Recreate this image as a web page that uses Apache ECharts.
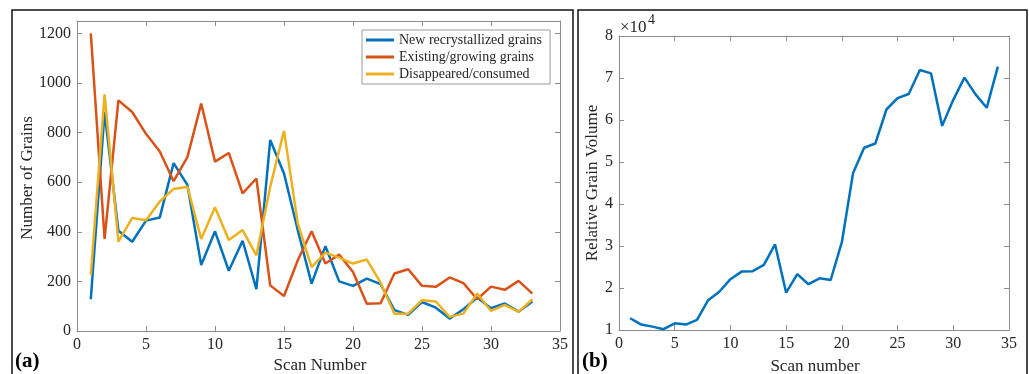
<!DOCTYPE html>
<html>
<head>
<meta charset="utf-8">
<script src="https://cdn.jsdelivr.net/npm/echarts@6/dist/echarts.min.js"></script>
<style>
    html, body { margin: 0; padding: 0; background: #fff; }
    #container { width: 1029px; height: 374px; }
</style>
</head>
<body>
<div id="container"></div>
<script type="text/javascript">
    // scan numbers for panel (a) and (b)
    var scansA = [1,2,3,4,5,6,7,8,9,10,11,12,13,14,15,16,17,18,19,20,21,22,23,24,25,26,27,28,29,30,31,32,33];
    var scansB = [1,2,3,4,5,6,7,8,9,10,11,12,13,14,15,16,17,18,19,20,21,22,23,24,25,26,27,28,29,30,31,32,33,34];

    var newGrains = [128,883,404,360,445,458,677,589,266,402,243,364,169,770,635,406,191,342,200,182,211,189,84,65,117,94,50,88,135,92,111,78,119];
    var existingGrains = [1200,371,930,883,795,724,604,701,917,683,718,555,615,184,141,285,402,272,308,238,110,112,232,249,182,178,216,193,128,179,166,202,151];
    var consumedGrains = [226,954,360,456,447,522,573,582,371,499,367,407,305,581,807,433,258,316,296,272,288,195,70,70,124,119,57,70,151,81,105,77,128];

    var grainVolume = [12800,11300,10800,10200,11600,11300,12400,17100,19100,22100,23900,24000,25500,30400,18900,23300,20900,22300,21900,30900,47300,53400,54400,62500,65200,66200,71900,71100,58600,64800,70100,66100,62900,72700];

    var seriesNames = ['New recrystallized grains', 'Existing/growing grains', 'Disappeared/consumed'];

    function pairs(xs, ys) {
        var out = [];
        for (var i = 0; i < ys.length; i++) out.push([xs[i], ys[i]]);
        return out;
    }

    var dom = document.getElementById("container");
    var myChart = echarts.init(dom);
    var font = 'Liberation Serif';
    var txt = '#262626';
    var axisGray = '#8c8c8c';

    function xAx(grid, pos, show) {
        return {
            type: 'value', gridIndex: grid, position: pos,
            min: 0, max: 35, interval: 5,
            axisLine: {show: true, onZero: false, lineStyle: {color: axisGray, width: 1}},
            axisTick: {show: true, inside: true, length: 5, lineStyle: {color: axisGray}},
            axisLabel: {show: show, color: txt, fontFamily: font, fontSize: 16, margin: 6,
                formatter: function (v) { return String(v); }},
            splitLine: {show: false}
        };
    }
    function yAx(grid, pos, show, min, max, interval, fmt) {
        return {
            type: 'value', gridIndex: grid, position: pos,
            min: min, max: max, interval: interval,
            axisLine: {show: true, onZero: false, lineStyle: {color: axisGray, width: 1}},
            axisTick: {show: true, inside: true, length: 5, lineStyle: {color: axisGray}},
            axisLabel: {show: show, color: txt, fontFamily: font, fontSize: 16, margin: 6,
                showMaxLabel: max === 1250 ? false : true,
                formatter: fmt || function (v) { return String(v); }},
            splitLine: {show: false}
        };
    }

    var lineW = 2.5;

    option = {
        animation: false,
        color: ['#0072BD', '#D95319', '#EDB120'],
        grid: [
            {left: 77, top: 21, right: 469, bottom: 43},
            {left: 619, top: 36, right: 20, bottom: 44}
        ],
        xAxis: [
            xAx(0, 'bottom', true), xAx(0, 'top', false),
            xAx(1, 'bottom', true), xAx(1, 'top', false)
        ],
        yAxis: [
            yAx(0, 'left', true, 0, 1250, 200),
            yAx(0, 'right', false, 0, 1250, 200),
            yAx(1, 'left', true, 10000, 80000, 10000, function (v) { return String(v / 10000); }),
            yAx(1, 'right', false, 10000, 80000, 10000)
        ],
        legend: {
            data: seriesNames,
            orient: 'vertical',
            left: 362, top: 30,
            padding: [3, 8, 3, 4],
            itemGap: 3,
            icon: 'rect',
            itemWidth: 28, itemHeight: 3,
            borderColor: '#9a9a9a', borderWidth: 1,
            backgroundColor: '#fff',
            textStyle: {color: txt, fontFamily: font, fontSize: 14, lineHeight: 13}
        },
        graphic: [
            {type: 'rect', shape: {x: 12, y: 10, width: 561, height: 380}, style: {fill: 'none', stroke: '#111', lineWidth: 1.5}, silent: true},
            {type: 'rect', shape: {x: 578, y: 10, width: 449, height: 380}, style: {fill: 'none', stroke: '#111', lineWidth: 1.5}, silent: true},
            {type: 'text', left: 15, top: 351, style: {text: '(a)', fontFamily: font, fontSize: 21, fontWeight: 'bold', fill: '#000'}},
            {type: 'text', left: 582, top: 351, style: {text: '(b)', fontFamily: font, fontSize: 21, fontWeight: 'bold', fill: '#000'}},
            {type: 'text', x: 320, y: 357, style: {text: 'Scan Number', fontFamily: font, fontSize: 17, fill: txt, align: 'center'}},
            {type: 'text', x: 815, y: 358, style: {text: 'Scan number', fontFamily: font, fontSize: 17, fill: txt, align: 'center'}},
            {type: 'text', x: 28, y: 178, rotation: Math.PI / 2, style: {text: 'Number of Grains', fontFamily: font, fontSize: 17, fill: txt, align: 'center', verticalAlign: 'middle'}},
            {type: 'text', x: 593, y: 183, rotation: Math.PI / 2, style: {text: 'Relative Grain Volume', fontFamily: font, fontSize: 17, fill: txt, align: 'center', verticalAlign: 'middle'}},
            {type: 'text', left: 620, top: 19, style: {text: '×10', fontFamily: font, fontSize: 17, fill: txt}},
            {type: 'text', left: 648, top: 13, style: {text: '4', fontFamily: font, fontSize: 14, fill: txt}}
        ],
        series: [
            {name: seriesNames[0], type: 'line', xAxisIndex: 0, yAxisIndex: 0, symbol: 'none',
                lineStyle: {width: lineW}, data: pairs(scansA, newGrains)},
            {name: seriesNames[1], type: 'line', xAxisIndex: 0, yAxisIndex: 0, symbol: 'none',
                lineStyle: {width: lineW}, data: pairs(scansA, existingGrains)},
            {name: seriesNames[2], type: 'line', xAxisIndex: 0, yAxisIndex: 0, symbol: 'none',
                lineStyle: {width: lineW}, data: pairs(scansA, consumedGrains)},
            {name: 'Relative Grain Volume', type: 'line', xAxisIndex: 2, yAxisIndex: 2, symbol: 'none',
                color: '#0072BD', lineStyle: {width: lineW, color: '#0072BD'}, data: pairs(scansB, grainVolume)}
        ]
    };
    if (option && typeof option === "object") {
        myChart.setOption(option, true);
    }
</script>
</body>
</html>
